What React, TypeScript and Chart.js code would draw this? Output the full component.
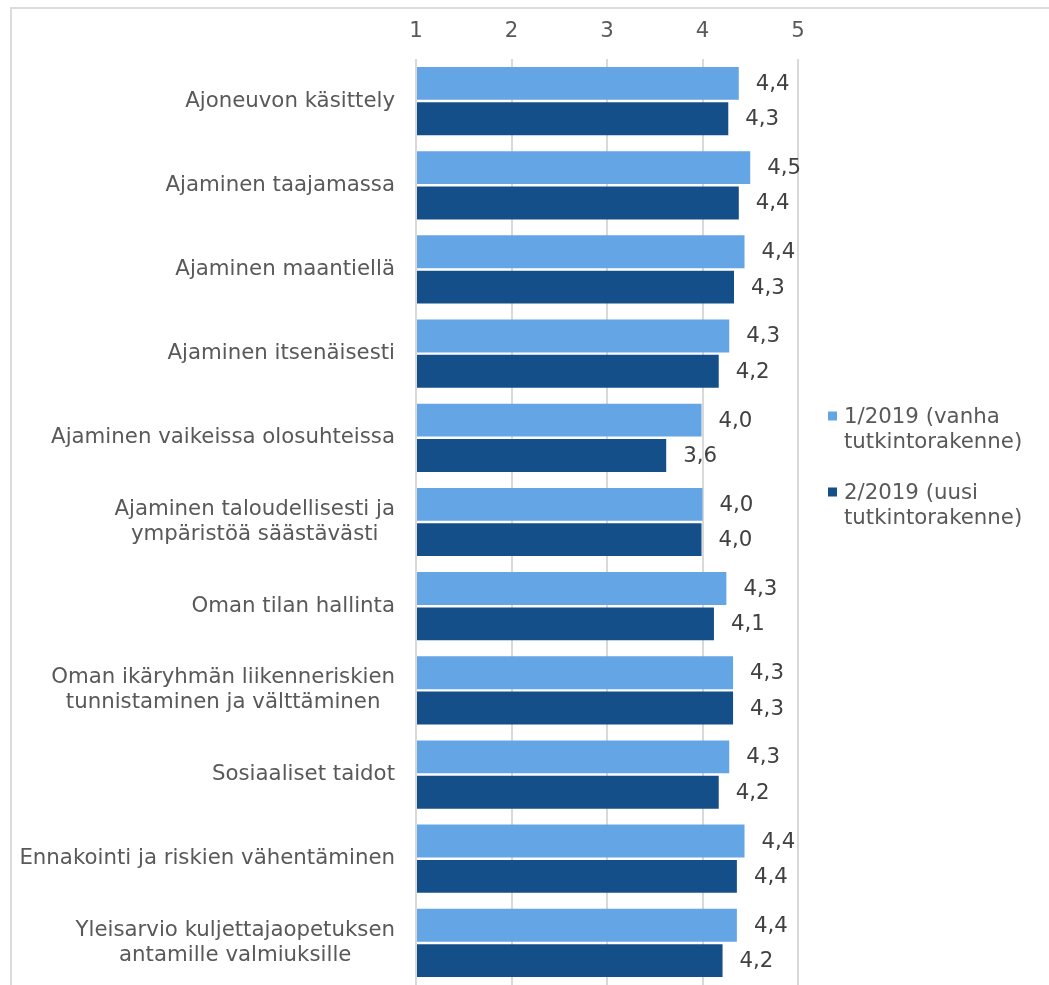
import React, { useEffect, useRef } from "react";
import { Chart, registerables } from "chart.js";

Chart.register(...registerables);

const FONT = '"DejaVu Sans", Verdana, sans-serif';
const FS = 21.3;

const categories: (string | string[])[] = [
  "Ajoneuvon käsittely",
  "Ajaminen taajamassa",
  "Ajaminen maantiellä",
  "Ajaminen itsenäisesti",
  "Ajaminen vaikeissa olosuhteissa",
  ["Ajaminen taloudellisesti ja", "ympäristöä säästävästi"],
  "Oman tilan hallinta",
  ["Oman ikäryhmän liikenneriskien", "tunnistaminen ja välttäminen"],
  "Sosiaaliset taidot",
  "Ennakointi ja riskien vähentäminen",
  ["Yleisarvio kuljettajaopetuksen", "antamille valmiuksille"],
];

const series1Label = ["1/2019 (vanha", "tutkintorakenne)"];
const series2Label = ["2/2019 (uusi", "tutkintorakenne)"];

const series1 = [4.38, 4.5, 4.44, 4.28, 3.99, 4.0, 4.25, 4.32, 4.28, 4.44, 4.36];
const series2 = [4.27, 4.38, 4.33, 4.17, 3.62, 3.99, 4.12, 4.32, 4.17, 4.36, 4.21];

const xTicks = [1, 2, 3, 4, 5];

const COLOR1 = "#64A5E6";
const COLOR2 = "#154F89";

const W = 1049;
const H = 985;

const customPlugin = {
  id: "customLabels",
  afterDatasetsDraw(chart: any) {
    const ctx = chart.ctx as CanvasRenderingContext2D;
    ctx.save();
    ctx.font = `${FS}px ${FONT}`;
    // data labels
    chart.data.datasets.forEach((ds: any, di: number) => {
      const meta = chart.getDatasetMeta(di);
      meta.data.forEach((bar: any, i: number) => {
        const v = ds.data[i] as number;
        const txt = (Math.round(v * 10) / 10).toFixed(1).replace(".", ",");
        ctx.fillStyle = "#404040";
        ctx.textAlign = "left";
        ctx.textBaseline = "middle";
        ctx.fillText(txt, bar.x + 17, bar.y + 1);
      });
    });
    // category labels (multi-line blocks centered, block right aligned)
    const yScale = chart.scales.y;
    const rightX = 395;
    const lh = 25;
    ctx.fillStyle = "#595959";
    ctx.textBaseline = "middle";
    ctx.textAlign = "center";
    categories.forEach((c, i) => {
      const lines = Array.isArray(c) ? c : [c];
      const bw = Math.max(...lines.map((l) => ctx.measureText(l).width));
      const cx = rightX - bw / 2;
      const cy = yScale.getPixelForValue(i);
      const y0 = cy - ((lines.length - 1) * lh) / 2;
      lines.forEach((l, k) => ctx.fillText(l, cx, y0 + k * lh));
    });
    // legend
    const items = [
      { lines: series1Label, color: COLOR1, y: 416 },
      { lines: series2Label, color: COLOR2, y: 492 },
    ];
    ctx.textAlign = "left";
    items.forEach((it) => {
      ctx.fillStyle = it.color;
      ctx.fillRect(828, it.y - 4.5, 9, 9);
      ctx.fillStyle = "#595959";
      it.lines.forEach((l, k) => ctx.fillText(l, 844, it.y + 1 + k * 25.5));
    });
    ctx.restore();
  },
};

export default function App() {
  const ref = useRef<HTMLCanvasElement | null>(null);

  useEffect(() => {
    if (!ref.current) return;
    const chart = new Chart(ref.current, {
      type: "bar",
      data: {
        labels: categories.map((c) => (Array.isArray(c) ? c.join(" ") : c)),
        datasets: [
          {
            label: series1Label.join(" "),
            data: series1,
            backgroundColor: COLOR1,
            borderWidth: 0,
            categoryPercentage: 0.84,
            barPercentage: 0.93,
            base: 1,
          },
          {
            label: series2Label.join(" "),
            data: series2,
            backgroundColor: COLOR2,
            borderWidth: 0,
            categoryPercentage: 0.84,
            barPercentage: 0.93,
            base: 1,
          },
        ],
      },
      options: {
        animation: false,
        responsive: false,
        maintainAspectRatio: false,
        devicePixelRatio: 1,
        indexAxis: "y",
        layout: { padding: { left: 416, right: W - 798, top: 0, bottom: 0 } },
        plugins: {
          legend: { display: false },
          tooltip: { enabled: false },
        },
        scales: {
          x: {
            position: "top",
            min: xTicks[0],
            max: xTicks[xTicks.length - 1],
            afterBuildTicks: (scale: any) => {
              scale.ticks = xTicks.map((v) => ({ value: v }));
            },
            ticks: {
              color: "#595959",
              font: { family: FONT, size: FS },
              padding: 15,
              callback: (v: any) => String(v),
            },
            grid: { color: "#d9d9d9", lineWidth: 2, drawTicks: false },
            border: { display: false },
            afterFit: (scale: any) => {
              scale.height = 59;
            },
          },
          y: {
            display: false,
            grid: { display: false },
          },
        },
      } as any,
      plugins: [customPlugin],
    });
    return () => chart.destroy();
  }, []);

  return (
    <div
      style={{
        position: "absolute",
        left: 0,
        top: 0,
        width: W,
        height: H,
        overflow: "hidden",
        background: "#ffffff",
      }}
    >
      <div
        style={{
          position: "absolute",
          left: 10,
          top: 7,
          width: 2000,
          height: 2000,
          borderLeft: "2px solid #dcdcdc",
          borderTop: "2px solid #dcdcdc",
        }}
      />
      <canvas
        ref={ref}
        width={W}
        height={H}
        style={{ position: "absolute", left: 0, top: 0, width: W, height: H }}
      />
    </div>
  );
}
